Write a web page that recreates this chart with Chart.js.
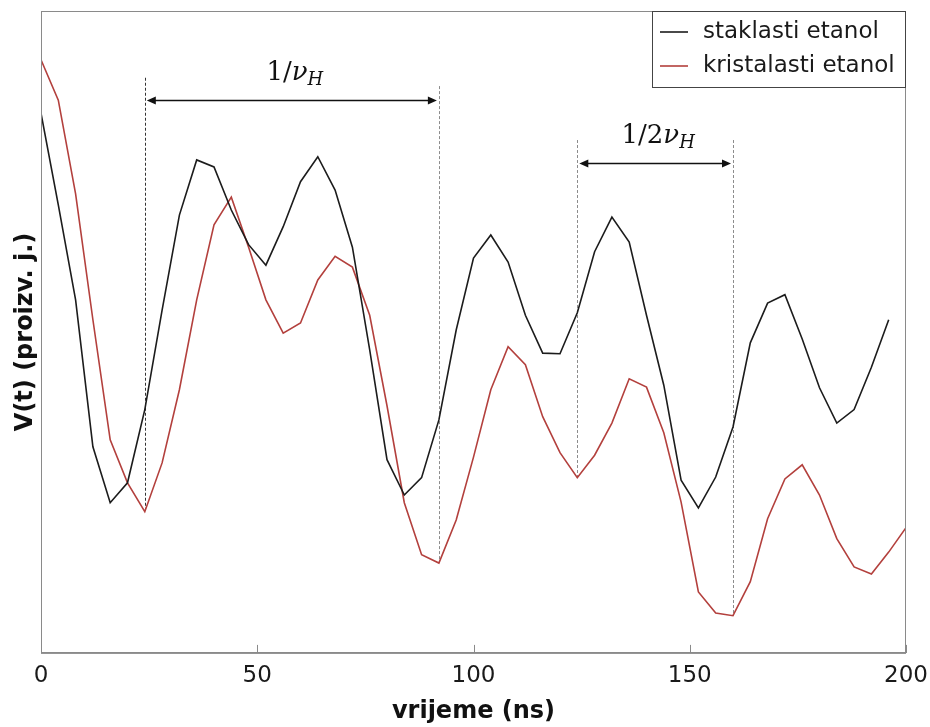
<!DOCTYPE html>
<html lang="hr">
<head>
<meta charset="UTF-8">
<title>V(t) - staklasti i kristalasti etanol</title>
<script src="https://cdn.jsdelivr.net/npm/chart.js"></script>
<style>
    body { margin: 0; background: #fff; }
    #chart { display: block; }
</style>
</head>
<body>
<canvas id="chart" width="930" height="727"></canvas>
<script>
// vrijeme u ns (korak 4 ns)
const timeNs = [0, 4, 8, 12, 16, 20, 24, 28, 32, 36, 40, 44, 48, 52, 56, 60, 64, 68, 72, 76,
    80, 84, 88, 92, 96, 100, 104, 108, 112, 116, 120, 124, 128, 132, 136, 140, 144, 148, 152, 156,
    160, 164, 168, 172, 176, 180, 184, 188, 192, 196, 200];

// V(t), proizvoljne jedinice
const staklasti = [84.1, 69.8, 55.0, 32.1, 23.4, 26.5, 37.9, 53.4, 68.2, 76.8,
    75.7, 69.0, 63.6, 60.4, 66.4, 73.4, 77.3, 72.1, 63.2, 47.2,
    30.1, 24.6, 27.3, 36.3, 50.3, 61.5, 65.1, 60.9, 52.6, 46.7,
    46.6, 53.0, 62.5, 67.9, 64.0, 52.6, 41.7, 26.9, 22.6, 27.4,
    35.2, 48.3, 54.5, 55.8, 48.9, 41.3, 35.8, 37.9, 44.5, 51.9];

const kristalasti = [92.4, 86.1, 71.5, 51.9, 33.2, 26.5, 22.0, 29.6, 41.0, 55.0,
    66.7, 71.0, 63.2, 55.0, 49.8, 51.4, 58.1, 61.8, 60.1, 52.6,
    38.5, 23.4, 15.3, 14.0, 20.7, 30.5, 41.0, 47.7, 44.9, 36.8,
    31.2, 27.3, 30.8, 35.8, 42.7, 41.4, 34.3, 23.5, 9.5, 6.2,
    5.8, 11.1, 20.9, 27.1, 29.3, 24.6, 17.8, 13.4, 12.3, 15.7, 19.5];

const xTicks = [0, 50, 100, 150, 200];

// periodi oznaceni strelicama: pocetak, kraj, visina strelice, vrh isprekidanih linija
const spanStart = [24, 124];
const spanEnd = [92, 160];
const spanArrowLevel = [86.1, 76.3];
const spanGuideTop = [[89.6, 88.3], [79.9, 79.9]];
const spanPrefix = ['1/', '1/2'];

const seriesNames = ['staklasti etanol', 'kristalasti etanol'];
const seriesColors = ['#1c1c1c', '#b3403d'];

const toPoints = (vals) => vals.map((v, i) => ({ x: timeNs[i], y: v }));

const axisGray = '#8a8a8a';

const annotations = {
    id: 'annotations',
    beforeDatasetsDraw(chart) {
        const { ctx, scales: { x, y } } = chart;
        ctx.save();
        ctx.lineWidth = 1;
        ctx.setLineDash([3, 2]);
        spanStart.forEach((s, i) => {
            [s, spanEnd[i]].forEach((t, j) => {
                const px = Math.round(x.getPixelForValue(t)) + 0.5;
                const bottom = kristalasti[timeNs.indexOf(t)];
                ctx.strokeStyle = (i === 0 && j === 0) ? '#333' : '#8c8c8c';
                ctx.beginPath();
                ctx.moveTo(px, y.getPixelForValue(spanGuideTop[i][j]));
                ctx.lineTo(px, y.getPixelForValue(bottom));
                ctx.stroke();
            });
        });
        ctx.restore();
    },
    afterDraw(chart) {
        const { ctx, chartArea: a, scales: { x, y } } = chart;
        ctx.save();

        // okvir grafa
        ctx.strokeStyle = axisGray;
        ctx.lineWidth = 1;
        ctx.strokeRect(a.left + 0.5, a.top + 0.5, a.right - a.left - 1, a.bottom - a.top);

        // kratke oznake prema unutra
        xTicks.forEach(t => {
            const px = Math.round(x.getPixelForValue(t)) + 0.5;
            ctx.beginPath();
            ctx.moveTo(px, a.bottom);
            ctx.lineTo(px, a.bottom - 8);
            ctx.stroke();
        });

        // strelice s oznakama
        ctx.fillStyle = '#111';
        ctx.strokeStyle = '#111';
        ctx.lineWidth = 1.6;
        spanStart.forEach((s, i) => {
            const x0 = x.getPixelForValue(s) + 2;
            const x1 = x.getPixelForValue(spanEnd[i]) - 2;
            const py = Math.round(y.getPixelForValue(spanArrowLevel[i])) + 0.5;
            ctx.beginPath();
            ctx.moveTo(x0 + 6, py);
            ctx.lineTo(x1 - 6, py);
            ctx.stroke();
            [[x0, 1], [x1, -1]].forEach(([tip, dir]) => {
                ctx.beginPath();
                ctx.moveTo(tip, py);
                ctx.lineTo(tip + dir * 9, py - 4);
                ctx.lineTo(tip + dir * 9, py + 4);
                ctx.closePath();
                ctx.fill();
            });

            // 1/νH ili 1/2νH
            const mainFont = '26px "DejaVu Serif"';
            const italFont = 'italic 26px "DejaVu Serif"';
            const subFont = 'italic 18px "DejaVu Serif"';
            ctx.font = mainFont;
            const w1 = ctx.measureText(spanPrefix[i]).width;
            ctx.font = italFont;
            const w2 = ctx.measureText('ν').width;
            ctx.font = subFont;
            const w3 = ctx.measureText('H').width;
            const total = w1 + w2 + w3;
            let tx = (x0 + x1) / 2 + 3 - total / 2;
            const base = py - 21;
            ctx.textBaseline = 'alphabetic';
            ctx.textAlign = 'left';
            ctx.font = mainFont;
            ctx.fillText(spanPrefix[i], tx, base);
            tx += w1;
            ctx.font = italFont;
            ctx.fillText('ν', tx, base);
            tx += w2;
            ctx.font = subFont;
            ctx.fillText('H', tx, base + 5);
        });

        // legenda
        const lx = 652, ly = a.top, lw = a.right - lx, lh = 76;
        ctx.fillStyle = '#fff';
        ctx.fillRect(lx, ly, lw, lh);
        ctx.strokeStyle = '#444';
        ctx.lineWidth = 1;
        ctx.strokeRect(lx + 0.5, ly + 0.5, lw - 1, lh);
        ctx.font = '23px "DejaVu Sans"';
        ctx.textBaseline = 'middle';
        ctx.textAlign = 'left';
        seriesNames.forEach((name, i) => {
            const cy = ly + 21 + i * 34;
            ctx.strokeStyle = seriesColors[i];
            ctx.lineWidth = 1.6;
            ctx.beginPath();
            ctx.moveTo(660, cy);
            ctx.lineTo(688, cy);
            ctx.stroke();
            ctx.fillStyle = '#1a1a1a';
            ctx.fillText(name, 703, cy);
        });

        ctx.restore();
    }
};

new Chart(document.getElementById('chart'), {
    type: 'line',
    data: {
        datasets: [
            {
                label: seriesNames[0],
                data: toPoints(staklasti),
                borderColor: seriesColors[0],
                borderWidth: 1.6,
                pointRadius: 0,
                tension: 0
            },
            {
                label: seriesNames[1],
                data: toPoints(kristalasti),
                borderColor: seriesColors[1],
                borderWidth: 1.6,
                pointRadius: 0,
                tension: 0
            }
        ]
    },
    options: {
        responsive: false,
        animation: false,
        devicePixelRatio: 1,
        layout: { padding: { left: 4, right: 24, top: 11, bottom: 0 } },
        plugins: {
            legend: { display: false },
            tooltip: { enabled: false }
        },
        scales: {
            x: {
                type: 'linear',
                min: 0,
                max: 200,
                afterBuildTicks: (scale) => { scale.ticks = xTicks.map(v => ({ value: v })); },
                // krajnje oznake (0, 200) smiju viriti izvan podrucja grafa
                afterFit: (scale) => { scale.paddingLeft = 0; scale.paddingRight = 0; },
                grid: { display: false, drawTicks: false },
                border: { color: axisGray },
                ticks: {
                    padding: 12,
                    color: '#1a1a1a',
                    font: { family: 'DejaVu Sans', size: 23, lineHeight: 1.0 },
                    maxRotation: 0
                },
                title: {
                    display: true,
                    text: 'vrijeme (ns)',
                    color: '#111',
                    font: { family: 'DejaVu Sans', size: 24, weight: 'bold', lineHeight: 0.9 },
                    padding: { top: 1, bottom: 4.5 }
                }
            },
            y: {
                min: 0,
                max: 100,
                grid: { display: false, drawTicks: false },
                border: { color: axisGray },
                ticks: { display: false },
                title: {
                    display: true,
                    text: 'V(t) (proizv. j.)',
                    color: '#111',
                    font: { family: 'DejaVu Sans', size: 24, weight: 'bold' },
                    padding: { top: 7, bottom: 1.2 }
                }
            }
        }
    },
    plugins: [annotations]
});
</script>
</body>
</html>
